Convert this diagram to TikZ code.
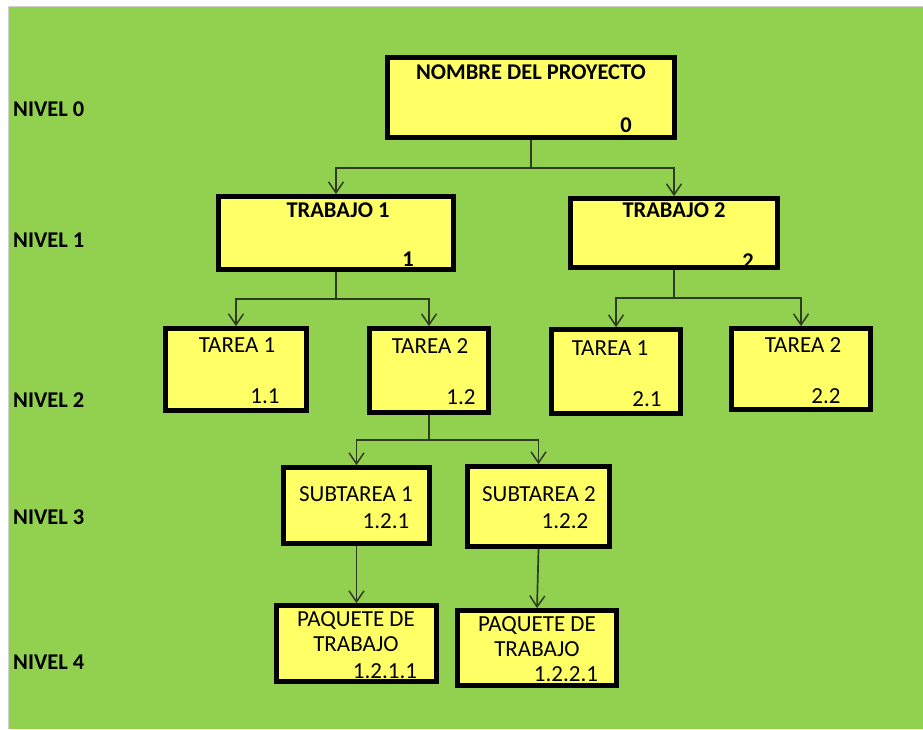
\documentclass[tikz,border=0pt]{standalone}
\usepackage{fontspec}
\setmainfont{Carlito}
\usetikzlibrary{arrows.meta}
\definecolor{fondo}{HTML}{92D050}
\definecolor{amarillo}{HTML}{FFFF66}
\definecolor{linea}{HTML}{2E3B1F}

\begin{document}
\begin{tikzpicture}[x=1pt, y=-1pt,
	caja/.style={draw=black, line width=4.8pt, fill=amarillo, inner sep=0pt},
	txt/.style={font=\fontsize{23}{25}\selectfont, inner sep=0pt, align=center},
	negrita/.style={txt, font=\fontsize{22.5}{25}\selectfont\bfseries},
	conn/.style={draw=linea, line width=1.7pt, -{Straight Barb[length=11pt, width=15pt, line width=1.5pt]}}]
	\useasboundingbox (0,0) rectangle (923,729);
	\fill[white] (0,0) rectangle (923,729);
	\fill[fondo] (9,7) rectangle (923,729);
	\draw[gray!35, line width=1pt] (8.5,729) -- (8.5,6.5) -- (923,6.5);
	
	% niveles
	\foreach \n/\y in {0/109, 1/240, 2/400, 3/517, 4/662}
		\node[negrita, anchor=west] (niv\n) at (13,\y) {NIVEL \n};
	
	% cajas
	\node[caja, minimum width=287pt, minimum height=80pt] (raiz) at (531,97.5) {};
	\node[caja, minimum width=235pt, minimum height=73pt] (trab1) at (336,233) {};
	\node[caja, minimum width=207pt, minimum height=69pt] (trab2) at (674,233) {};
	\node[caja, minimum width=141pt, minimum height=82pt] (ta11) at (236,369.5) {};
	\node[caja, minimum width=119pt, minimum height=84pt] (ta12) at (429,370.5) {};
	\node[caja, minimum width=129pt, minimum height=84pt] (ta21) at (616,371.5) {};
	\node[caja, minimum width=139pt, minimum height=81pt] (ta22) at (801,369) {};
	\node[caja, minimum width=146pt, minimum height=76pt] (st1) at (356.5,505.5) {};
	\node[caja, minimum width=142pt, minimum height=80pt] (st2) at (538.5,506.5) {};
	\node[caja, minimum width=160pt, minimum height=76pt] (pq1) at (356.5,643.5) {};
	\node[caja, minimum width=159pt, minimum height=75pt] (pq2) at (537,648) {};
	
	% textos
	\node[negrita] (raiz-t) at (531,72) {NOMBRE DEL PROYECTO};
	\node[negrita] (raiz-n) at (626,125) {0};
	\node[negrita] (trab1-t) at (338,210) {TRABAJO 1};
	\node[negrita] (trab1-n) at (408,259) {1};
	\node[negrita] (trab2-t) at (674,210) {TRABAJO 2};
	\node[negrita] (trab2-n) at (748,261) {2};
	\node[txt] (ta11-t) at (237,345) {TAREA 1};
	\node[txt] (ta11-n) at (265,396) {1.1};
	\node[txt] (ta12-t) at (430,346) {TAREA 2};
	\node[txt] (ta12-n) at (461,397) {1.2};
	\node[txt] (ta21-t) at (610,348) {TAREA 1};
	\node[txt] (ta21-n) at (647,399) {2.1};
	\node[txt] (ta22-t) at (803,345) {TAREA 2};
	\node[txt] (ta22-n) at (826,396) {2.2};
	\node[txt] (st1-t) at (356,494) {SUBTAREA 1};
	\node[txt] (st1-n) at (386,521) {1.2.1};
	\node[txt] (st2-t) at (539,494) {SUBTAREA 2};
	\node[txt] (st2-n) at (565,521) {1.2.2};
	\node[txt] (pq1-t) at (356,632) {PAQUETE DE\\TRABAJO};
	\node[txt] (pq1-n) at (385,671) {1.2.1.1};
	\node[txt] (pq2-t) at (537,637) {PAQUETE DE\\TRABAJO};
	\node[txt] (pq2-n) at (566,674) {1.2.2.1};
	
	% conectores
	\draw[conn] (raiz.south) -- ++(0,28) -| (trab1.north);
	\draw[conn] (raiz.south) -- ++(0,28) -| (trab2.north);
	\draw[conn] (trab1.south) -- ++(0,27) -| (ta11.north);
	\draw[conn] (trab1.south) -- ++(0,27) -| (ta12.north);
	\draw[conn] (trab2.south) -- ++(0,28) -| (ta21.north);
	\draw[conn] (trab2.south) -- ++(0,28) -| (ta22.north);
	\draw[conn] (ta12.south) -- ++(0,25) -| (st1.north);
	\draw[conn] (ta12.south) -- ++(0,25) -| (st2.north);
	\draw[conn] (st1.south) -- (pq1.north);
	\draw[conn] (st2.south) -- (pq2.north);
\end{tikzpicture}
\end{document}
